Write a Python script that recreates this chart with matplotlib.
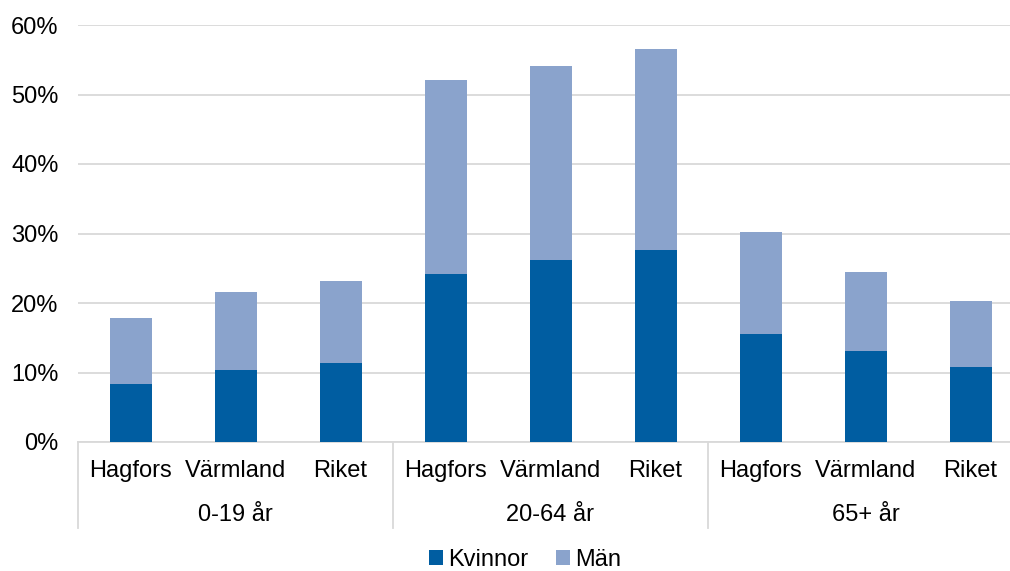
import matplotlib.pyplot as plt
import numpy as np

plt.rcParams['font.family'] = ['Liberation Sans', 'DejaVu Sans']

groups = ['0-19 år', '20-64 år', '65+ år']
places = ['Hagfors', 'Värmland', 'Riket']
kvinnor = [8.3, 10.4, 11.4, 24.2, 26.2, 27.6, 15.5, 13.1, 10.8]
totalt = [17.8, 21.6, 23.2, 52.1, 54.1, 56.5, 30.2, 24.5, 20.3]
man = [t - k for t, k in zip(totalt, kvinnor)]

c_kv = '#005DA1'
c_man = '#8AA3CC'
grid_c = '#D9D9D9'

fig = plt.figure(figsize=(10.1, 5.71), dpi=100)
W, H = 1010, 571
# axes runs a little past the right edge, as in the original
ax = fig.add_axes([78 / W, (H - 442) / H, 945 / W, 417 / H])

x = np.arange(len(kvinnor))
ax.bar(x, kvinnor, width=0.4, color=c_kv, label='Kvinnor', zorder=3)
ax.bar(x, man, width=0.4, bottom=kvinnor, color=c_man, label='Män', zorder=3)

ax.set_xlim(-0.5, len(kvinnor) - 0.5)
ax.set_ylim(0, 60)
ax.set_yticks(range(0, 61, 10))
ax.set_yticklabels([f'{v}%' for v in range(0, 61, 10)], fontsize=17)
ax.yaxis.grid(True, color=grid_c, linewidth=1.3, zorder=0)
ax.tick_params(axis='y', length=0, pad=14)
for s in ['top', 'right', 'left']:
    ax.spines[s].set_visible(False)
ax.spines['bottom'].set_color(grid_c)
ax.spines['bottom'].set_linewidth(1.3)

ax.set_xticks(x)
ax.set_xticklabels(places * 3, fontsize=17)
ax.tick_params(axis='x', length=0, pad=13)

# group labels and separators below the axis
trans = ax.get_xaxis_transform()
sep_len = (528 - 442) / 417
for i, g in enumerate(groups):
    ax.text(3 * i + 1, -(515 - 442) / 417, g, transform=trans, ha='center',
            va='center', fontsize=17)
    ax.plot([3 * i - 0.5, 3 * i - 0.5], [0, -sep_len], transform=trans,
            color=grid_c, linewidth=1.3, clip_on=False)

fig.legend(loc='center', bbox_to_anchor=(525 / W, (H - 560) / H), ncol=2,
           frameon=False, fontsize=17, handlelength=0.6, handleheight=0.6,
           handletextpad=0.2, columnspacing=1.2, borderpad=0)

plt.savefig('out.png', dpi=100)
